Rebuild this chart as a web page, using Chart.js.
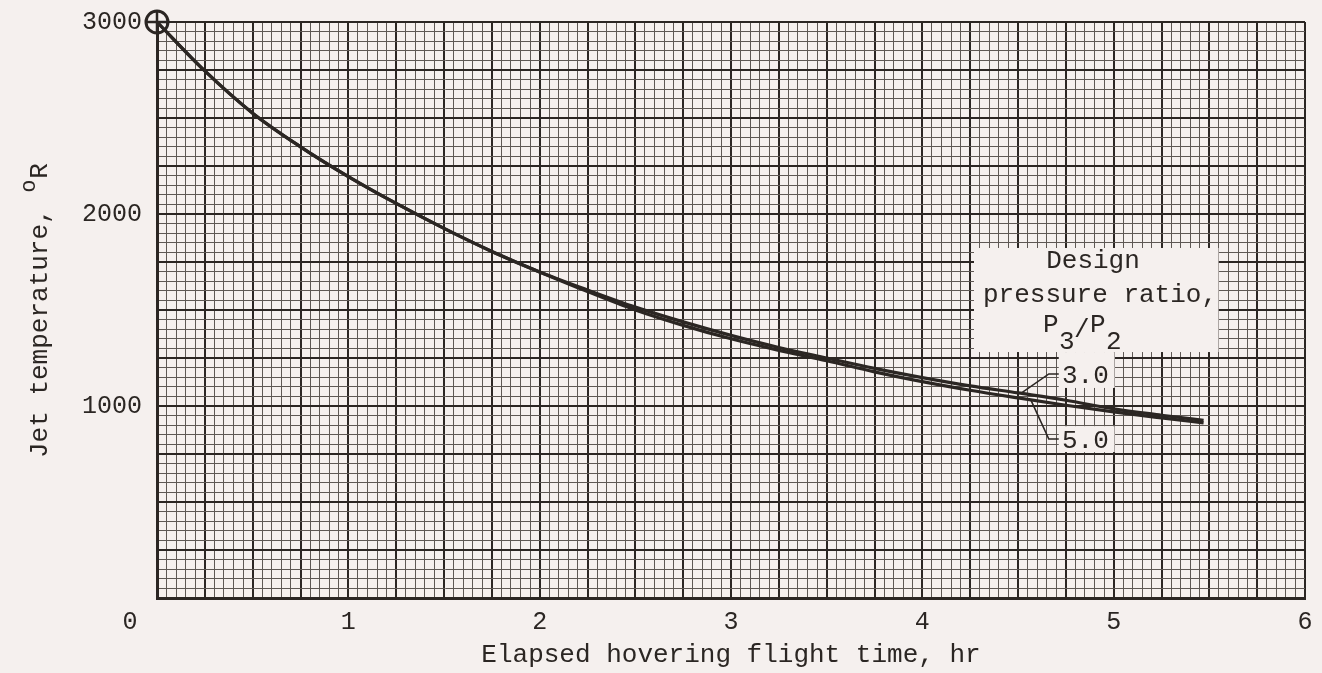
<!DOCTYPE html>
<html>
<head>
<meta charset="utf-8">
<script src="https://cdn.jsdelivr.net/npm/chart.js@4.4.1/dist/chart.umd.min.js"></script>
<style>
  html, body { margin: 0; padding: 0; background: #f5f0ee; }
</style>
</head>
<body>
<canvas id="chart" width="1322" height="673"></canvas>
<script>
// Elapsed hovering flight time, hr
const hours = [0, 0.25, 0.5, 0.75, 1.0, 1.25, 1.5, 1.75, 2.0, 2.25, 2.5, 2.75, 3.0,
               3.25, 3.5, 3.75, 4.0, 4.25, 4.5, 4.75, 5.0, 5.25, 5.47];
// Jet temperature, deg R, design pressure ratio P3/P2 = 3.0
const jetTemp30 = [3000, 2745, 2525, 2350, 2195, 2055, 1925, 1805, 1698, 1604, 1515, 1438, 1368,
                   1305, 1250, 1196, 1148, 1105, 1068, 1030, 985, 952, 925];
// same, P3/P2 = 5.0
const jetTemp50 = [3000, 2745, 2525, 2350, 2195, 2055, 1925, 1805, 1698, 1596, 1500, 1420, 1350,
                   1290, 1236, 1178, 1127, 1082, 1042, 1004, 969, 938, 912];
const startPoint = [{ x: 0, y: 3000 }];

const xLabelHours = [1, 2, 3, 4, 5, 6];
const yLabelTemps = [1000, 2000, 3000];

const INK = '#2b2623';
const RULE = '#5e5854';
const PAPER = '#f5f0ee';
const FONT = '"Liberation Mono", "Courier New", monospace';

// graph paper: fine rulings every 0.05 hr / 50 deg, heavy every fifth one
const xRulings = Array.from({ length: 121 }, (_, i) => +(i * 0.05).toFixed(2));
const yRulings = Array.from({ length: 61 }, (_, i) => i * 50);

function toXY(xs, ys) {
    return xs.map((x, i) => ({ x: x, y: ys[i] }));
}

function isHeavy(value, step) {
    return Math.round(value / step) % 5 === 0;
}

// text and call-outs drawn on top of the paper
const notesPlugin = {
    id: 'notes',
    beforeDatasetsDraw(chart) {
        const { ctx, scales: { x, y } } = chart;
        const patch = (x0, y0, x1, y1) => {
            const l = x.getPixelForValue(x0), t = y.getPixelForValue(y0);
            ctx.fillRect(l, t, x.getPixelForValue(x1) - l, y.getPixelForValue(y1) - t);
        };
        ctx.save();
        ctx.fillStyle = PAPER;
        patch(4.27, 1823, 5.548, 1281);   // legend panel
        patch(4.713, 1281, 5.005, 1094);  // behind 3.0
        patch(4.713, 895, 5.005, 760);    // behind 5.0
        ctx.restore();
    },
    afterDraw(chart) {
        const { ctx, scales: { x, y } } = chart;
        const px = v => x.getPixelForValue(v);
        const py = v => y.getPixelForValue(v);
        ctx.save();
        ctx.fillStyle = INK;
        ctx.strokeStyle = INK;
        ctx.font = '26px ' + FONT;
        ctx.textBaseline = 'alphabetic';

        // legend
        ctx.textAlign = 'center';
        ctx.fillText('Design', 1093, 268);
        ctx.fillText('pressure ratio,', 1100, 302);
        ctx.textAlign = 'left';
        ctx.fillText('P', 1043, 332);
        ctx.fillText('3', 1059, 349);
        ctx.fillText('/', 1074, 337);
        ctx.fillText('P', 1090, 332);
        ctx.fillText('2', 1106, 349);

        // curve labels with leaders
        ctx.fillText('3.0', 1062, 383);
        ctx.fillText('5.0', 1062, 448);
        ctx.lineWidth = 1.6;
        ctx.beginPath();
        ctx.moveTo(px(4.713), py(1167));
        ctx.lineTo(px(4.661), py(1167));
        ctx.lineTo(px(4.515), py(1066));
        ctx.moveTo(px(4.713), py(828));
        ctx.lineTo(px(4.661), py(828));
        ctx.lineTo(px(4.567), py(1032));
        ctx.stroke();

        // origin label
        ctx.font = '25px ' + FONT;
        ctx.textAlign = 'center';
        ctx.textBaseline = 'middle';
        ctx.fillText('0', px(0) - 27, x.top + 24);

        // y axis title with raised "o"
        ctx.translate(47, chart.chartArea.bottom - 140);
        ctx.rotate(-Math.PI / 2);
        ctx.textAlign = 'left';
        ctx.textBaseline = 'alphabetic';
        ctx.font = '26px ' + FONT;
        const head = 'Jet temperature, ';
        const w = ctx.measureText(head).width;
        ctx.fillText(head, 0, 0);
        ctx.fillText('R', w + 14, 0);
        ctx.font = '22px ' + FONT;
        ctx.fillText('o', w, -12);
        ctx.restore();
    }
};

new Chart(document.getElementById('chart'), {
    type: 'line',
    data: {
        datasets: [
            {
                label: '3.0',
                data: toXY(hours, jetTemp30),
                borderColor: INK,
                borderWidth: 3.2,
                pointRadius: 0,
                cubicInterpolationMode: 'monotone',
                clip: false
            },
            {
                label: '5.0',
                data: toXY(hours, jetTemp50),
                borderColor: INK,
                borderWidth: 3.2,
                pointRadius: 0,
                cubicInterpolationMode: 'monotone',
                clip: false
            },
            {
                label: 'start circle',
                data: startPoint,
                showLine: false,
                pointStyle: 'circle',
                pointRadius: 11,
                pointBorderWidth: 3,
                pointBorderColor: INK,
                pointBackgroundColor: 'rgba(0,0,0,0)',
                clip: false
            },
            {
                label: 'start cross',
                data: startPoint,
                showLine: false,
                pointStyle: 'cross',
                pointRadius: 11,
                pointBorderWidth: 2.5,
                pointBorderColor: INK,
                clip: false
            }
        ]
    },
    options: {
        responsive: false,
        animation: false,
        layout: { padding: { top: 22, right: 17, bottom: 0, left: 0 } },
        plugins: {
            legend: { display: false },
            tooltip: { enabled: false }
        },
        scales: {
            x: {
                type: 'linear',
                min: 0,
                max: 6,
                afterBuildTicks: s => { s.ticks = xRulings.map(v => ({ value: v })); },
                afterFit: s => { s.height = 75; },
                grid: {
                    drawTicks: false,
                    color: c => isHeavy(c.tick.value, 0.05) ? INK : RULE,
                    lineWidth: c => isHeavy(c.tick.value, 0.05) ? 2 : 1
                },
                border: { color: INK, width: 3 },
                ticks: {
                    autoSkip: false,
                    maxRotation: 0,
                    padding: 9,
                    color: INK,
                    font: { family: FONT, size: 25 },
                    callback: v => xLabelHours.includes(v) ? String(v) : ''
                },
                title: {
                    display: true,
                    text: 'Elapsed hovering flight time, hr',
                    color: INK,
                    font: { family: FONT, size: 26 },
                    padding: { top: 0, bottom: 2 }
                }
            },
            y: {
                type: 'linear',
                min: 0,
                max: 3000,
                afterBuildTicks: s => { s.ticks = yRulings.map(v => ({ value: v })); },
                afterFit: s => {
                    s.width = 157;
                    s.paddingTop = 0;
                    s.paddingBottom = 0;
                },
                grid: {
                    drawTicks: false,
                    color: c => isHeavy(c.tick.value, 50) ? INK : RULE,
                    lineWidth: c => isHeavy(c.tick.value, 50) ? 2 : 1
                },
                border: { color: INK, width: 3 },
                ticks: {
                    autoSkip: false,
                    padding: 15,
                    color: INK,
                    font: { family: FONT, size: 25 },
                    callback: v => yLabelTemps.includes(v) ? String(v) : ''
                }
            }
        }
    },
    plugins: [notesPlugin]
});
</script>
</body>
</html>
